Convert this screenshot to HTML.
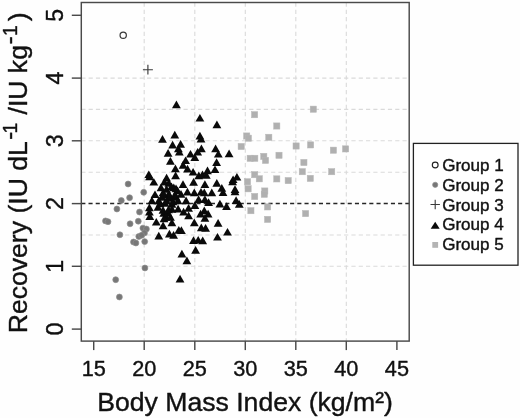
<!DOCTYPE html>
<html><head><meta charset="utf-8"><title>Recovery vs Body Mass Index</title>
<style>
html,body{margin:0;padding:0;background:#fff;}
svg{display:block;font-family:"Liberation Sans", Arial, sans-serif;}
text{stroke:#111;stroke-width:0.4px;stroke-linejoin:round;}
</style></head><body>
<svg width="520" height="418" viewBox="0 0 520 418">
<rect x="0" y="0" width="520" height="418" fill="#fefefe"/>

<g stroke="#dadada" stroke-width="1.1" stroke-dasharray="4.2 3.1" fill="none">
<line x1="144.2" y1="2.5" x2="144.2" y2="341.1"/>
<line x1="194.8" y1="2.5" x2="194.8" y2="341.1"/>
<line x1="245.3" y1="2.5" x2="245.3" y2="341.1"/>
<line x1="295.8" y1="2.5" x2="295.8" y2="341.1"/>
<line x1="346.3" y1="2.5" x2="346.3" y2="341.1"/>
<line x1="81.3" y1="266.3" x2="409.2" y2="266.3"/>
<line x1="81.3" y1="235.0" x2="409.2" y2="235.0"/>
<line x1="81.3" y1="172.2" x2="409.2" y2="172.2"/>
<line x1="81.3" y1="140.8" x2="409.2" y2="140.8"/>
<line x1="81.3" y1="109.4" x2="409.2" y2="109.4"/>
<line x1="81.3" y1="78.1" x2="409.2" y2="78.1"/>
</g>
<line x1="81.3" y1="203.6" x2="409.2" y2="203.6" stroke="#262626" stroke-width="1.5" stroke-dasharray="4.1 3.1"/>
<g fill="#b0b0b0" stroke="#b8b8b8" stroke-width="0.5">
<rect x="310.2" y="106.1" width="6.2" height="6.2"/>
<rect x="251.5" y="111.6" width="6.2" height="6.2"/>
<rect x="273.7" y="122.9" width="6.2" height="6.2"/>
<rect x="243.6" y="132.9" width="6.2" height="6.2"/>
<rect x="245.3" y="135.1" width="6.2" height="6.2"/>
<rect x="265.7" y="134.2" width="6.2" height="6.2"/>
<rect x="238.1" y="143.4" width="6.2" height="6.2"/>
<rect x="293.0" y="142.9" width="6.2" height="6.2"/>
<rect x="307.5" y="141.8" width="6.2" height="6.2"/>
<rect x="275.9" y="152.2" width="6.2" height="6.2"/>
<rect x="247.1" y="155.2" width="6.2" height="6.2"/>
<rect x="251.7" y="155.2" width="6.2" height="6.2"/>
<rect x="260.7" y="153.3" width="6.2" height="6.2"/>
<rect x="262.4" y="157.3" width="6.2" height="6.2"/>
<rect x="300.8" y="159.4" width="6.2" height="6.2"/>
<rect x="299.2" y="168.6" width="6.2" height="6.2"/>
<rect x="251.6" y="171.6" width="6.2" height="6.2"/>
<rect x="256.2" y="175.7" width="6.2" height="6.2"/>
<rect x="273.7" y="175.8" width="6.2" height="6.2"/>
<rect x="285.1" y="177.5" width="6.2" height="6.2"/>
<rect x="307.2" y="175.3" width="6.2" height="6.2"/>
<rect x="244.4" y="178.7" width="6.2" height="6.2"/>
<rect x="245.0" y="185.7" width="6.2" height="6.2"/>
<rect x="261.7" y="187.9" width="6.2" height="6.2"/>
<rect x="261.2" y="191.2" width="6.2" height="6.2"/>
<rect x="251.6" y="193.4" width="6.2" height="6.2"/>
<rect x="264.5" y="203.8" width="6.2" height="6.2"/>
<rect x="247.8" y="207.6" width="6.2" height="6.2"/>
<rect x="302.5" y="210.5" width="6.2" height="6.2"/>
<rect x="264.5" y="216.3" width="6.2" height="6.2"/>
<rect x="330.3" y="147.1" width="6.2" height="6.2"/>
<rect x="342.5" y="145.8" width="6.2" height="6.2"/>
<rect x="328.6" y="168.6" width="6.2" height="6.2"/>
</g>
<g fill="#777" stroke="#8e8e8e" stroke-width="0.7">
<circle cx="128.1" cy="184.0" r="2.95"/>
<circle cx="143.7" cy="192.3" r="2.95"/>
<circle cx="129.6" cy="197.7" r="2.95"/>
<circle cx="121.3" cy="200.5" r="2.95"/>
<circle cx="116.9" cy="209.0" r="2.95"/>
<circle cx="139.5" cy="212.0" r="2.95"/>
<circle cx="105.5" cy="220.9" r="2.95"/>
<circle cx="108.0" cy="221.7" r="2.95"/>
<circle cx="138.3" cy="221.2" r="2.95"/>
<circle cx="130.1" cy="223.8" r="2.95"/>
<circle cx="142.9" cy="228.1" r="2.95"/>
<circle cx="146.4" cy="229.0" r="2.95"/>
<circle cx="144.5" cy="232.9" r="2.95"/>
<circle cx="138.8" cy="236.5" r="2.95"/>
<circle cx="141.6" cy="235.3" r="2.95"/>
<circle cx="119.9" cy="234.8" r="2.95"/>
<circle cx="133.5" cy="242.0" r="2.95"/>
<circle cx="135.9" cy="243.0" r="2.95"/>
<circle cx="144.7" cy="241.6" r="2.95"/>
<circle cx="144.9" cy="268.0" r="2.95"/>
<circle cx="115.7" cy="279.7" r="2.95"/>
<circle cx="119.4" cy="297.0" r="2.95"/>
</g>
<g fill="#0a0a0a">
<path d="M176.4 100.5L180.8 108.2H172.0Z"/>
<path d="M199.9 113.9L204.3 121.6H195.5Z"/>
<path d="M216.9 120.6L221.3 128.3H212.5Z"/>
<path d="M174.8 130.7L179.2 138.4H170.4Z"/>
<path d="M162.5 135.0L166.9 142.7H158.1Z"/>
<path d="M199.9 131.7L204.3 139.4H195.5Z"/>
<path d="M201.0 134.8L205.4 142.5H196.6Z"/>
<path d="M172.6 140.7L177.0 148.4H168.2Z"/>
<path d="M180.6 140.0L185.0 147.7H176.2Z"/>
<path d="M178.4 144.5L182.8 152.2H174.0Z"/>
<path d="M179.3 147.9L183.7 155.6H174.9Z"/>
<path d="M168.1 149.1L172.5 156.8H163.7Z"/>
<path d="M201.4 144.5L205.8 152.2H197.0Z"/>
<path d="M197.7 147.9L202.1 155.6H193.3Z"/>
<path d="M190.5 149.9L194.9 157.6H186.1Z"/>
<path d="M194.8 153.2L199.2 160.9H190.4Z"/>
<path d="M215.6 144.5L220.0 152.2H211.2Z"/>
<path d="M218.3 149.9L222.7 157.6H213.9Z"/>
<path d="M229.1 149.6L233.5 157.3H224.7Z"/>
<path d="M170.4 157.1L174.8 164.8H166.0Z"/>
<path d="M185.6 156.4L190.0 164.1H181.2Z"/>
<path d="M216.6 158.2L221.0 165.9H212.2Z"/>
<path d="M183.1 161.0L187.5 168.7H178.7Z"/>
<path d="M187.5 164.8L191.9 172.5H183.1Z"/>
<path d="M175.4 164.5L179.8 172.2H171.0Z"/>
<path d="M193.1 167.9L197.5 175.6H188.7Z"/>
<path d="M148.8 170.4L153.2 178.1H144.4Z"/>
<path d="M149.5 172.5L153.9 180.2H145.1Z"/>
<path d="M175.6 171.6L180.0 179.3H171.2Z"/>
<path d="M198.8 171.6L203.2 179.3H194.4Z"/>
<path d="M202.5 170.4L206.9 178.1H198.1Z"/>
<path d="M166.6 173.8L171.0 181.5H162.2Z"/>
<path d="M153.8 177.9L158.2 185.6H149.4Z"/>
<path d="M164.4 177.9L168.8 185.6H160.0Z"/>
<path d="M168.8 179.1L173.2 186.8H164.4Z"/>
<path d="M173.8 183.5L178.2 191.2H169.4Z"/>
<path d="M177.5 186.6L181.9 194.3H173.1Z"/>
<path d="M155.0 190.4L159.4 198.1H150.6Z"/>
<path d="M163.1 188.5L167.5 196.2H158.7Z"/>
<path d="M168.8 189.8L173.2 197.5H164.4Z"/>
<path d="M207.5 166.6L211.9 174.3H203.1Z"/>
<path d="M215.0 165.4L219.4 173.1H210.6Z"/>
<path d="M206.3 171.0L210.7 178.7H201.9Z"/>
<path d="M236.9 172.9L241.3 180.6H232.5Z"/>
<path d="M233.1 175.4L237.5 183.1H228.7Z"/>
<path d="M205.6 224.1L210.0 231.8H201.2Z"/>
<path d="M227.5 227.9L231.9 235.6H223.1Z"/>
<path d="M217.5 232.9L221.9 240.6H213.1Z"/>
<path d="M151.9 196.6L156.3 204.3H147.5Z"/>
<path d="M158.8 196.6L163.2 204.3H154.4Z"/>
<path d="M149.4 203.5L153.8 211.2H145.0Z"/>
<path d="M149.4 207.9L153.8 215.6H145.0Z"/>
<path d="M149.8 212.3L154.2 220.0H145.4Z"/>
<path d="M163.8 209.1L168.2 216.8H159.4Z"/>
<path d="M168.1 209.1L172.5 216.8H163.7Z"/>
<path d="M166.0 213.0L170.4 220.7H161.6Z"/>
<path d="M156.3 217.9L160.7 225.6H151.9Z"/>
<path d="M163.1 221.6L167.5 229.3H158.7Z"/>
<path d="M171.9 218.5L176.3 226.2H167.5Z"/>
<path d="M178.8 226.0L183.2 233.7H174.4Z"/>
<path d="M158.8 231.8L163.2 239.5H154.4Z"/>
<path d="M169.4 229.8L173.8 237.5H165.0Z"/>
<path d="M173.6 231.0L178.0 238.7H169.2Z"/>
<path d="M178.1 204.8L182.5 212.5H173.7Z"/>
<path d="M162.0 193.0L166.4 200.7H157.6Z"/>
<path d="M170.0 194.0L174.4 201.7H165.6Z"/>
<path d="M176.0 193.0L180.4 200.7H171.6Z"/>
<path d="M165.0 199.0L169.4 206.7H160.6Z"/>
<path d="M172.0 200.0L176.4 207.7H167.6Z"/>
<path d="M158.0 203.0L162.4 210.7H153.6Z"/>
<path d="M172.0 205.0L176.4 212.7H167.6Z"/>
<path d="M161.0 183.5L165.4 191.2H156.6Z"/>
<path d="M166.5 185.0L170.9 192.7H162.1Z"/>
<path d="M171.5 182.5L175.9 190.2H167.1Z"/>
<path d="M176.0 184.5L180.4 192.2H171.6Z"/>
<path d="M163.5 190.5L167.9 198.2H159.1Z"/>
<path d="M169.5 192.0L173.9 199.7H165.1Z"/>
<path d="M175.0 190.5L179.4 198.2H170.6Z"/>
<path d="M166.5 196.5L170.9 204.2H162.1Z"/>
<path d="M173.0 197.5L177.4 205.2H168.6Z"/>
<path d="M178.0 196.5L182.4 204.2H173.6Z"/>
<path d="M160.0 199.5L164.4 207.2H155.6Z"/>
<path d="M163.0 206.0L167.4 213.7H158.6Z"/>
<path d="M168.5 205.5L172.9 213.2H164.1Z"/>
<path d="M170.5 213.0L174.9 220.7H166.1Z"/>
<path d="M164.0 214.5L168.4 222.2H159.6Z"/>
<path d="M195.6 246.0L200.0 253.7H191.2Z"/>
<path d="M181.9 249.8L186.3 257.5H177.5Z"/>
<path d="M186.9 256.6L191.3 264.3H182.5Z"/>
<path d="M180.0 274.8L184.4 282.5H175.6Z"/>
<path d="M183.0 180.3L187.4 188.0H178.6Z"/>
<path d="M193.6 178.0L198.0 185.7H189.2Z"/>
<path d="M204.9 180.2L209.3 187.9H200.5Z"/>
<path d="M216.8 179.1L221.2 186.8H212.4Z"/>
<path d="M181.0 190.0L185.4 197.7H176.6Z"/>
<path d="M187.4 187.8L191.8 195.5H183.0Z"/>
<path d="M194.3 188.6L198.7 196.3H189.9Z"/>
<path d="M201.0 187.9L205.4 195.6H196.6Z"/>
<path d="M204.3 188.5L208.7 196.2H199.9Z"/>
<path d="M211.8 188.5L216.2 196.2H207.4Z"/>
<path d="M221.8 184.0L226.2 191.7H217.4Z"/>
<path d="M223.0 188.4L227.4 196.1H218.6Z"/>
<path d="M232.6 177.6L237.0 185.3H228.2Z"/>
<path d="M186.1 196.5L190.5 204.2H181.7Z"/>
<path d="M198.6 195.3L203.0 203.0H194.2Z"/>
<path d="M204.9 195.3L209.3 203.0H200.5Z"/>
<path d="M208.6 198.2L213.0 205.9H204.2Z"/>
<path d="M219.9 199.7L224.3 207.4H215.5Z"/>
<path d="M226.5 202.2L230.9 209.9H222.1Z"/>
<path d="M236.1 196.2L240.5 203.9H231.7Z"/>
<path d="M239.3 200.1L243.7 207.8H234.9Z"/>
<path d="M194.9 201.3L199.3 209.0H190.5Z"/>
<path d="M188.6 204.0L193.0 211.7H184.2Z"/>
<path d="M183.6 207.8L188.0 215.5H179.2Z"/>
<path d="M188.6 211.5L193.0 219.2H184.2Z"/>
<path d="M204.3 206.5L208.7 214.2H199.9Z"/>
<path d="M200.6 209.8L205.0 217.5H196.2Z"/>
<path d="M208.1 209.8L212.5 217.5H203.7Z"/>
<path d="M204.9 214.1L209.3 221.8H200.5Z"/>
<path d="M194.3 218.5L198.7 226.2H189.9Z"/>
<path d="M218.1 219.1L222.5 226.8H213.7Z"/>
<path d="M201.3 223.5L205.7 231.2H196.9Z"/>
<path d="M235.0 185.3L239.4 193.0H230.6Z"/>
<path d="M235.0 187.5L239.4 195.2H230.6Z"/>
<path d="M193.5 236.2L197.9 243.9H189.1Z"/>
<path d="M198.2 235.9L202.6 243.6H193.8Z"/>
<path d="M202.7 236.5L207.1 244.2H198.3Z"/>
<path d="M181.4 226.3L185.8 234.0H177.0Z"/>
</g>
<circle cx="123.2" cy="35.3" r="3.15" fill="#fff" stroke="#383838" stroke-width="1.2"/>
<path d="M142.9 69.7H152.9M147.9 64.8V74.6" stroke="#3a3a3a" stroke-width="1.15" fill="none"/>
<g stroke="#4a4a4a" stroke-width="1.45" fill="none">
<rect x="81.3" y="2.5" width="327.9" height="338.6"/>
<line x1="93.7" y1="341.1" x2="93.7" y2="350.1"/>
<line x1="144.2" y1="341.1" x2="144.2" y2="350.1"/>
<line x1="194.8" y1="341.1" x2="194.8" y2="350.1"/>
<line x1="245.3" y1="341.1" x2="245.3" y2="350.1"/>
<line x1="295.8" y1="341.1" x2="295.8" y2="350.1"/>
<line x1="346.3" y1="341.1" x2="346.3" y2="350.1"/>
<line x1="396.9" y1="341.1" x2="396.9" y2="350.1"/>
<line x1="71.8" y1="329.1" x2="81.3" y2="329.1"/>
<line x1="71.8" y1="266.3" x2="81.3" y2="266.3"/>
<line x1="71.8" y1="203.6" x2="81.3" y2="203.6"/>
<line x1="71.8" y1="140.8" x2="81.3" y2="140.8"/>
<line x1="71.8" y1="78.1" x2="81.3" y2="78.1"/>
<line x1="71.8" y1="15.3" x2="81.3" y2="15.3"/>
</g>
<g font-size="21.7" fill="#111" text-anchor="middle">
<text x="93.7" y="375.6">15</text>
<text x="144.2" y="375.6">20</text>
<text x="194.8" y="375.6">25</text>
<text x="245.3" y="375.6">30</text>
<text x="295.8" y="375.6">35</text>
<text x="346.3" y="375.6">40</text>
<text x="396.9" y="375.6">45</text>
<text transform="translate(62.7 329.1) rotate(-90)" font-size="23.2">0</text>
<text transform="translate(62.7 266.3) rotate(-90)" font-size="23.2">1</text>
<text transform="translate(62.7 203.6) rotate(-90)" font-size="23.2">2</text>
<text transform="translate(62.7 140.8) rotate(-90)" font-size="23.2">3</text>
<text transform="translate(62.7 78.1) rotate(-90)" font-size="23.2">4</text>
<text transform="translate(62.7 15.3) rotate(-90)" font-size="23.2">5</text>
</g>
<text x="245.1" y="411.2" font-size="26.6" fill="#111" text-anchor="middle">Body Mass Index (kg/m²)</text>
<g font-size="26.6" fill="#111">
<text transform="translate(26.5 333.3) rotate(-90)">Recovery (IU dL</text>
<text transform="translate(17.2 139.7) rotate(-90)" font-size="24">-</text>
<text transform="translate(17.2 133.4) rotate(-90)" font-size="19.3">1</text>
<text transform="translate(26.5 114.5) rotate(-90)">/IU kg</text>
<text transform="translate(17.2 44.2) rotate(-90)" font-size="24">-</text>
<text transform="translate(17.2 36.0) rotate(-90)" font-size="19.3">1</text>
<text transform="translate(26.5 21.3) rotate(-90)">)</text>
</g>
<rect x="413.4" y="143.4" width="104.6" height="121.8" fill="#fff" stroke="#222" stroke-width="1.3"/>
<g font-size="17.05" fill="#111">
<text x="442.2" y="171.2">Group 1</text>
<text x="442.2" y="190.9">Group 2</text>
<text x="442.2" y="210.7">Group 3</text>
<text x="442.2" y="230.4">Group 4</text>
<text x="442.2" y="250.2">Group 5</text>
</g>
<circle cx="435.2" cy="165.0" r="2.9" fill="#fff" stroke="#222" stroke-width="1.15"/>
<circle cx="435.2" cy="184.8" r="2.6" fill="#777" stroke="#8e8e8e" stroke-width="0.7"/>
<path d="M430.5 204.5H439.9M435.2 199.8V209.2" stroke="#3a3a3a" stroke-width="1.1" fill="none"/>
<path d="M435.2 221.7L439.7 228.7H430.7Z" fill="#0a0a0a"/>
<rect x="432.3" y="242.0" width="5.8" height="5.8" fill="#b4b4b4"/>
</svg></body></html>
